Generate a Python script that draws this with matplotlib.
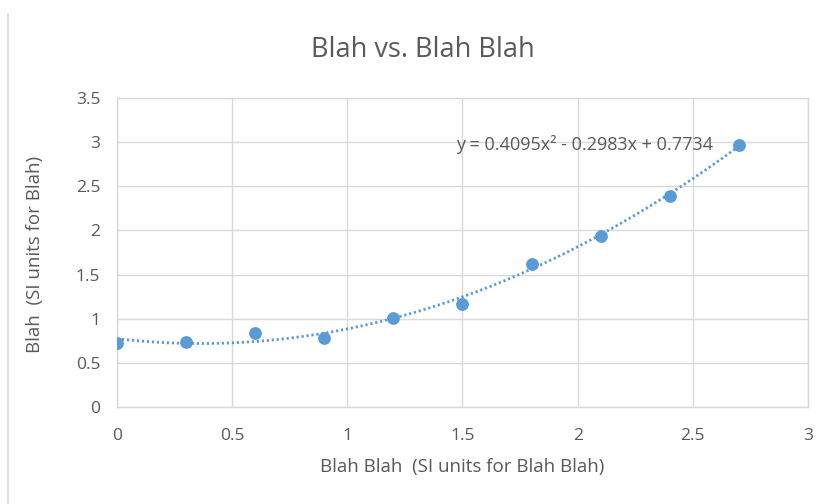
import numpy as np
import matplotlib.pyplot as plt
from matplotlib.lines import Line2D

# data
x_vals = [0, 0.3, 0.6, 0.9, 1.2, 1.5, 1.8, 2.1, 2.4, 2.7]
y_vals = [0.725, 0.74, 0.84, 0.78, 1.01, 1.17, 1.62, 1.94, 2.39, 2.97]
trend_coef = [0.4095, -0.2983, 0.7734]
x_ticks = [0, 0.5, 1, 1.5, 2, 2.5, 3]
x_tick_labels = ["0", "0.5", "1", "1.5", "2", "2.5", "3"]
y_ticks = [0, 0.5, 1, 1.5, 2, 2.5, 3, 3.5]
y_tick_labels = ["0", "0.5", "1", "1.5", "2", "2.5", "3", "3.5"]

blue = "#5B9BD5"
text_col = "#595959"
grid_col = "#d9d9d9"

plt.rcParams['font.family'] = ['Open Sans', 'DejaVu Sans']

fig = plt.figure(figsize=(8.28, 5.04), dpi=100)
ax = fig.add_axes([117 / 828, 1 - 407 / 504, (808 - 117) / 828, (407 - 98) / 504])

# trendline
xt = np.linspace(min(x_vals), max(x_vals), 200)
ax.plot(xt, np.polyval(trend_coef, xt), color=blue, lw=2,
        linestyle=(0, (0.8, 1.0)), zorder=2)
ax.scatter(x_vals, y_vals, s=85, color=blue, zorder=3, linewidths=0)

ax.set_xlim(0, 3)
ax.set_ylim(0, 3.5)
ax.set_xticks(x_ticks)
ax.set_xticklabels(x_tick_labels)
ax.set_yticks(y_ticks)
ax.set_yticklabels(y_tick_labels)
ax.grid(True, color=grid_col, lw=1)
ax.set_axisbelow(True)
for s in ax.spines.values():
    s.set_color(grid_col)
    s.set_linewidth(1)
ax.tick_params(length=0, labelsize=12.5, labelcolor=text_col)
ax.tick_params(axis='x', pad=15)
ax.tick_params(axis='y', pad=12)

eq = "y = 0.4095x\u00b2 - 0.2983x + 0.7734"
ax.text(1.472, 2.97, eq, fontsize=13, color=text_col, va='center', ha='left')

fig.text(423 / 828, 1 - 50 / 504, "Blah vs. Blah Blah", fontsize=19.5,
         color=text_col, ha='center', va='center')
fig.text(462 / 828, 1 - 467 / 504, "Blah Blah  (SI units for Blah Blah)",
         fontsize=13.5, color=text_col, ha='center', va='center')
fig.text(35 / 828, 1 - 254 / 504, "Blah  (SI units for Blah)", fontsize=13.5,
         color=text_col, ha='center', va='center', rotation=90)

# left border of the chart frame
fig.add_artist(Line2D([8 / 828, 8 / 828], [0, 1 - 14 / 504],
                      color="#d9d9d9", lw=1.2))

fig.savefig("out.png", dpi=100)
